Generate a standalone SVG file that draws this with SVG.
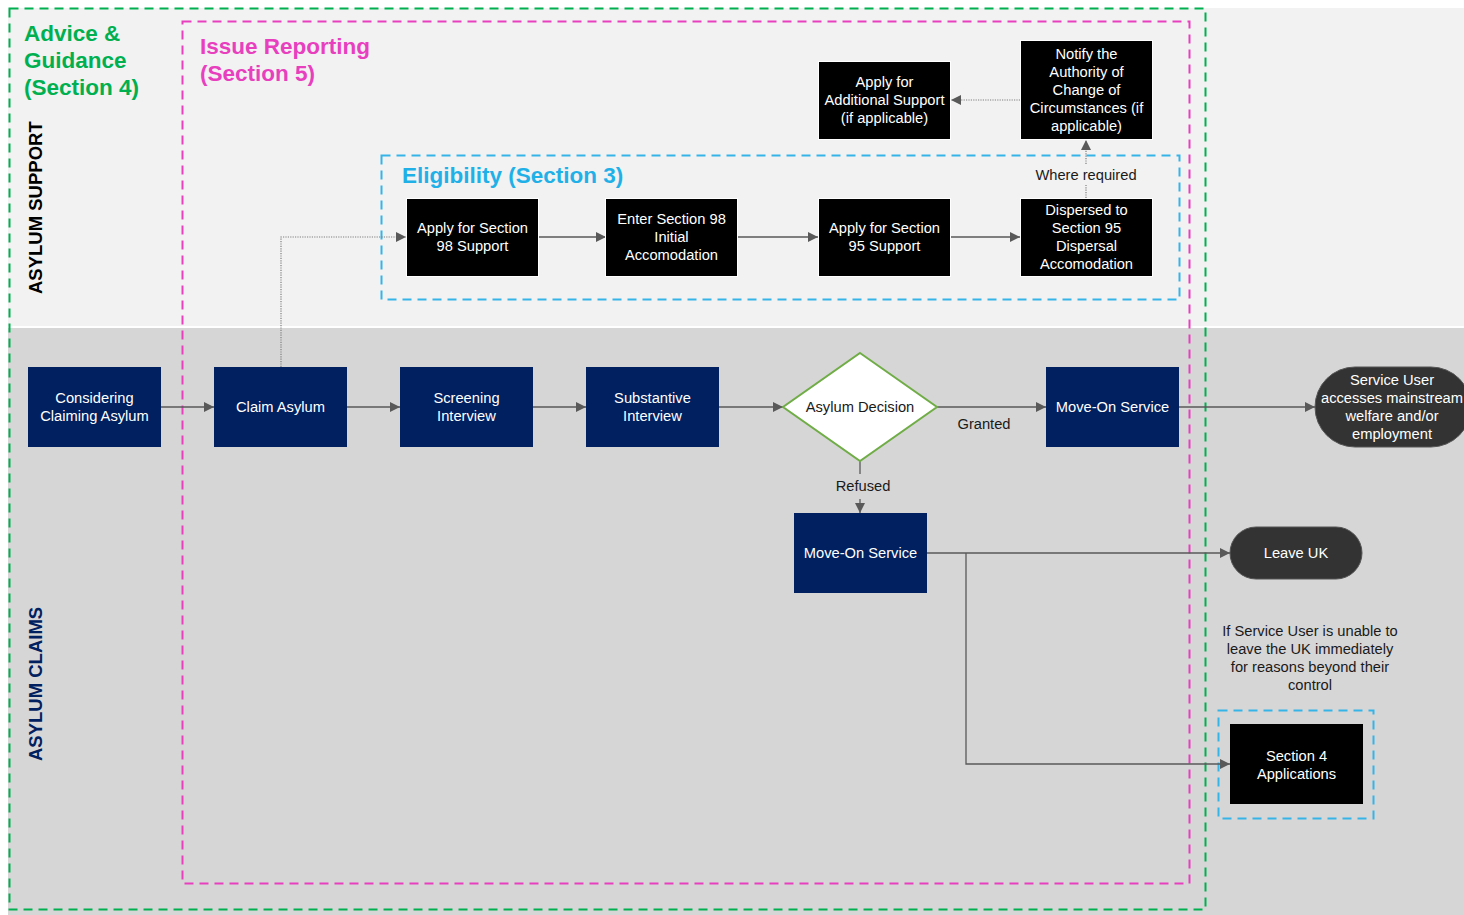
<svg xmlns="http://www.w3.org/2000/svg" width="1464" height="915" viewBox="0 0 1464 915">
<defs>
<marker id="arr" viewBox="0 0 10 10" refX="10" refY="5" markerWidth="10" markerHeight="10" markerUnits="userSpaceOnUse" orient="auto">
<path d="M0,0 L10,5 L0,10 z" fill="#595959"/>
</marker>
<style>
text{font-family:"Liberation Sans",Arial,sans-serif}
.nt{font-size:14.7px;fill:#ffffff;text-anchor:middle}
.lt{font-size:14.7px;fill:#1a1a1a;text-anchor:middle}
.blk{fill:#000000;stroke:#ffffff;stroke-width:1}
.nav{fill:#002060}
.pill{fill:#333333;stroke:#555555;stroke-width:1}
.ln{fill:none;stroke:#595959;stroke-width:1.3}
.dot{fill:none;stroke:#7f7f7f;stroke-width:1.2;stroke-dasharray:1.2 1.2}
.ttl{font-size:22.5px;font-weight:bold}
</style>
</defs>
<rect x="0" y="0" width="1464" height="915" fill="#ffffff"/>
<g id="bands">
<rect x="8" y="8" width="1456" height="318" fill="#f2f2f2"/>
<rect x="8" y="328" width="1456" height="587" fill="#d6d6d6"/>
<text transform="translate(42,294) rotate(-90)" font-size="18.5" font-weight="bold" fill="#000000">ASYLUM SUPPORT</text>
<text transform="translate(42,761) rotate(-90)" font-size="18.5" font-weight="bold" fill="#002060">ASYLUM CLAIMS</text>
</g>
<g id="section4-advice">
<rect x="9.5" y="8.5" width="1196" height="901" fill="none" stroke="#00b050" stroke-width="2" stroke-dasharray="9 6"/>
<text class="ttl" fill="#00b050" x="24" y="41">Advice &amp;</text>
<text class="ttl" fill="#00b050" x="24" y="68">Guidance</text>
<text class="ttl" fill="#00b050" x="24" y="95">(Section 4)</text>
</g>
<g id="section5-issue">
<rect x="182.5" y="21.5" width="1007" height="862" fill="none" stroke="#e83fbf" stroke-width="2" stroke-dasharray="9 6"/>
<text class="ttl" fill="#e83fbf" x="200" y="54">Issue Reporting</text>
<text class="ttl" fill="#e83fbf" x="200" y="81">(Section 5)</text>
</g>
<g id="section3-eligibility">
<rect x="381.5" y="155.5" width="798" height="144" fill="none" stroke="#35b4e8" stroke-width="2" stroke-dasharray="9 6"/>
<text class="ttl" fill="#1fb0e8" x="402" y="183">Eligibility (Section 3)</text>
</g>
<g id="section4-box">
<rect x="1218.5" y="710.5" width="155" height="108" fill="none" stroke="#35b4e8" stroke-width="2" stroke-dasharray="9 6"/>
</g>
<g id="connectors">
<line class="ln" x1="161" y1="407" x2="214" y2="407" marker-end="url(#arr)"/>
<line class="ln" x1="347" y1="407" x2="400" y2="407" marker-end="url(#arr)"/>
<line class="ln" x1="533" y1="407" x2="586" y2="407" marker-end="url(#arr)"/>
<line class="ln" x1="719" y1="407" x2="783" y2="407" marker-end="url(#arr)"/>
<line class="ln" x1="937" y1="407" x2="1046" y2="407" marker-end="url(#arr)"/>
<text class="lt" x="984" y="429">Granted</text>
<line class="ln" x1="1179" y1="407" x2="1315" y2="407" marker-end="url(#arr)"/>
<line class="ln" x1="860" y1="461" x2="860" y2="474"/>
<text class="lt" x="863" y="491">Refused</text>
<line class="ln" x1="860" y1="499" x2="860" y2="513" marker-end="url(#arr)"/>
<line class="ln" x1="927" y1="553" x2="1230" y2="553" marker-end="url(#arr)"/>
<polyline class="ln" points="966,553 966,764 1230,764" marker-end="url(#arr)"/>
<polyline class="dot" points="281,367 281,237 406,237" marker-end="url(#arr)"/>
<line class="ln" x1="538" y1="237" x2="606" y2="237" marker-end="url(#arr)"/>
<line class="ln" x1="737" y1="237" x2="818" y2="237" marker-end="url(#arr)"/>
<line class="ln" x1="950" y1="237" x2="1020" y2="237" marker-end="url(#arr)"/>
<line class="dot" x1="1086" y1="198" x2="1086" y2="185"/>
<text class="lt" x="1086" y="180">Where required</text>
<line class="dot" x1="1086" y1="164" x2="1086" y2="140" marker-end="url(#arr)"/>
<line class="dot" x1="1020" y1="100" x2="951" y2="100" marker-end="url(#arr)"/>
<text class="lt" x="1310" y="636">If Service User is unable to</text>
<text class="lt" x="1310" y="654">leave the UK immediately</text>
<text class="lt" x="1310" y="672">for reasons beyond their</text>
<text class="lt" x="1310" y="690">control</text>
</g>
<g id="n-considering">
<rect class="nav" x="28" y="367" width="133" height="80"/>
<text class="nt" x="94.5" y="403">Considering</text>
<text class="nt" x="94.5" y="421">Claiming Asylum</text>
</g>
<g id="n-claim">
<rect class="nav" x="214" y="367" width="133" height="80"/>
<text class="nt" x="280.5" y="412">Claim Asylum</text>
</g>
<g id="n-screening">
<rect class="nav" x="400" y="367" width="133" height="80"/>
<text class="nt" x="466.5" y="403">Screening</text>
<text class="nt" x="466.5" y="421">Interview</text>
</g>
<g id="n-substantive">
<rect class="nav" x="586" y="367" width="133" height="80"/>
<text class="nt" x="652.5" y="403">Substantive</text>
<text class="nt" x="652.5" y="421">Interview</text>
</g>
<g id="n-decision">
<polygon points="860,353 937,407 860,461 783,407" fill="#ffffff" stroke="#70ad47" stroke-width="2"/>
<text class="lt" x="860" y="412">Asylum Decision</text>
</g>
<g id="n-moveon-granted">
<rect class="nav" x="1046" y="367" width="133" height="80"/>
<text class="nt" x="1112.5" y="412">Move-On Service</text>
</g>
<g id="n-moveon-refused">
<rect class="nav" x="794" y="513" width="133" height="80"/>
<text class="nt" x="860.5" y="558">Move-On Service</text>
</g>
<g id="n-service-user">
<rect class="pill" x="1315" y="367" width="156" height="80" rx="40" ry="40"/>
<text class="nt" x="1392" y="385">Service User</text>
<text class="nt" x="1392" y="403">accesses mainstream</text>
<text class="nt" x="1392" y="421">welfare and/or</text>
<text class="nt" x="1392" y="439">employment</text>
</g>
<g id="n-leave-uk">
<rect class="pill" x="1230" y="527" width="132" height="52" rx="26" ry="26"/>
<text class="nt" x="1296" y="558">Leave UK</text>
</g>
<g id="n-section4">
<rect x="1230" y="724" width="133" height="80" fill="#000000"/>
<text class="nt" x="1296.5" y="761">Section 4</text>
<text class="nt" x="1296.5" y="779">Applications</text>
</g>
<g id="n-apply98">
<rect class="blk" x="406.5" y="198.5" width="132" height="78"/>
<text class="nt" x="472.5" y="233">Apply for Section</text>
<text class="nt" x="472.5" y="251">98 Support</text>
</g>
<g id="n-enter98">
<rect class="blk" x="605.5" y="198.5" width="132" height="78"/>
<text class="nt" x="671.5" y="224">Enter Section 98</text>
<text class="nt" x="671.5" y="242">Initial</text>
<text class="nt" x="671.5" y="260">Accomodation</text>
</g>
<g id="n-apply95">
<rect class="blk" x="818.5" y="198.5" width="132" height="78"/>
<text class="nt" x="884.5" y="233">Apply for Section</text>
<text class="nt" x="884.5" y="251">95 Support</text>
</g>
<g id="n-dispersed">
<rect class="blk" x="1020.5" y="198.5" width="132" height="78"/>
<text class="nt" x="1086.5" y="215">Dispersed to</text>
<text class="nt" x="1086.5" y="233">Section 95</text>
<text class="nt" x="1086.5" y="251">Dispersal</text>
<text class="nt" x="1086.5" y="269">Accomodation</text>
</g>
<g id="n-notify">
<rect class="blk" x="1020.5" y="40.5" width="132" height="99"/>
<text class="nt" x="1086.5" y="59">Notify the</text>
<text class="nt" x="1086.5" y="77">Authority of</text>
<text class="nt" x="1086.5" y="95">Change of</text>
<text class="nt" x="1086.5" y="113">Circumstances (if</text>
<text class="nt" x="1086.5" y="131">applicable)</text>
</g>
<g id="n-additional">
<rect class="blk" x="818.5" y="61.5" width="132" height="78"/>
<text class="nt" x="884.5" y="87">Apply for</text>
<text class="nt" x="884.5" y="105">Additional Support</text>
<text class="nt" x="884.5" y="123">(if applicable)</text>
</g>
</svg>
